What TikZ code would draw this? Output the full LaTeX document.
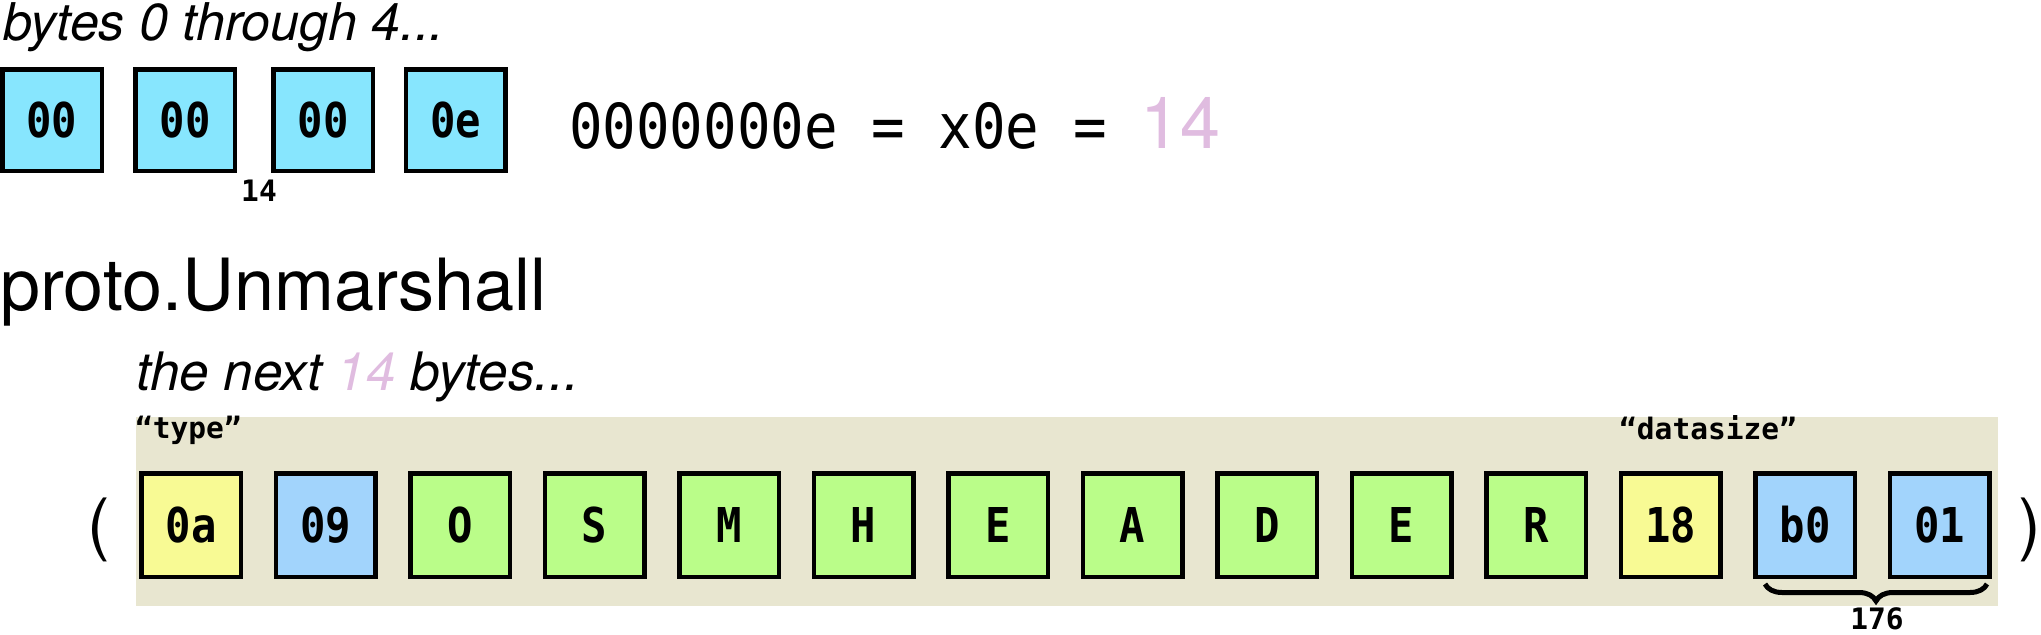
\documentclass[tikz,border=0pt]{standalone}
\usepackage{fontspec}
\setmainfont{TeX Gyre Heros}
\newfontfamily\dmono[FakeStretch=0.9]{DejaVu Sans Mono}
\newfontfamily\dmonob[FakeStretch=0.88]{DejaVu Sans Mono}
\newfontfamily\dmonol{DejaVu Sans Mono}
\usetikzlibrary{decorations.pathreplacing}
\definecolor{cyanbox}{HTML}{87E6FE}
\definecolor{yellowbox}{HTML}{F8FA94}
\definecolor{bluebox}{HTML}{A2D4FC}
\definecolor{greenbox}{HTML}{BAFD89}
\definecolor{beige}{HTML}{E8E6D0}
\definecolor{pinktxt}{HTML}{E0BCE0}
\newcommand\bytefnt{\dmonob\bfseries\fontsize{48}{52}\selectfont}
\newcommand\lblfnt{\dmonol\bfseries\fontsize{29.5}{33}\selectfont}
\tikzset{
  bytebox/.style={draw=black, line width=4.5pt, minimum width=99.5pt, minimum height=103.5pt, inner sep=0pt, font=\bytefnt},
  topbox/.style={bytebox, fill=cyanbox, minimum height=101.5pt},
  ybox/.style={bytebox, fill=yellowbox},
  bbox/.style={bytebox, fill=bluebox},
  gbox/.style={bytebox, fill=greenbox},
  lbl/.style={inner sep=0pt, font=\lblfnt},
  txt/.style={inner sep=0pt, anchor=base west},
}
\begin{document}
\begin{tikzpicture}[x=1pt,y=-1pt]
\useasboundingbox (0,0) rectangle (2041,634);
% top row
\node[txt, font=\itshape\fontsize{52}{56}\selectfont] (t1) at (3,41) {bytes 0 through 4...};
\node[topbox] (a0) at (52,120) {00};
\node[topbox] (a1) at (185,120) {00};
\node[topbox] (a2) at (323,120) {00};
\node[topbox] (a3) at (455.5,120) {0e};
\node[lbl] (l14) at (259,191) {14};
\node[txt] (eq) at (569,148) {{\dmono\fontsize{62}{66}\selectfont 0000000e = x0e = }{\fontsize{72}{76}\selectfont\color{pinktxt}14}};
% proto
\node[txt, font=\fontsize{72}{76}\selectfont] (pu) at (0,310) {proto.Unmarshall};
\node[txt, font=\itshape\fontsize{53}{57}\selectfont] (nx) at (136,390) {the next {\color{pinktxt}14} bytes...};
\fill[beige] (136,417) rectangle (1998,606);
\node[txt, font=\lblfnt] (ty) at (135,438) {“type”};
\node[txt, font=\lblfnt] (ds) at (1619,439) {“datasize”};
\node[ybox] (b0) at (191,525) {0a};
\node[bbox] (b1) at (325.5,525) {09};
\node[gbox] (b2) at (460,525) {O};
\node[gbox] (b3) at (594.5,525) {S};
\node[gbox] (b4) at (729,525) {M};
\node[gbox] (b5) at (863.5,525) {H};
\node[gbox] (b6) at (998,525) {E};
\node[gbox] (b7) at (1132.5,525) {A};
\node[gbox] (b8) at (1267,525) {D};
\node[gbox] (b9) at (1401.5,525) {E};
\node[gbox] (b10) at (1536,525) {R};
\node[ybox] (b11) at (1670.5,525) {18};
\node[bbox] (b12) at (1805,525) {b0};
\node[bbox] (b13) at (1939.5,525) {01};
\node[inner sep=0pt, font=\fontsize{68}{72}\selectfont] (lp) at (99,530) {(};
\node[inner sep=0pt, font=\fontsize{68}{72}\selectfont] (rp) at (2030,530) {)};
\coordinate (brl) at (1765,584);
\coordinate (brr) at (1987,584);
\draw[decorate, decoration={brace, mirror, amplitude=17pt}, line width=5pt] (brl) -- (brr);
\node[lbl] (n176) at (1877,619) {176};
\end{tikzpicture}
\end{document}
